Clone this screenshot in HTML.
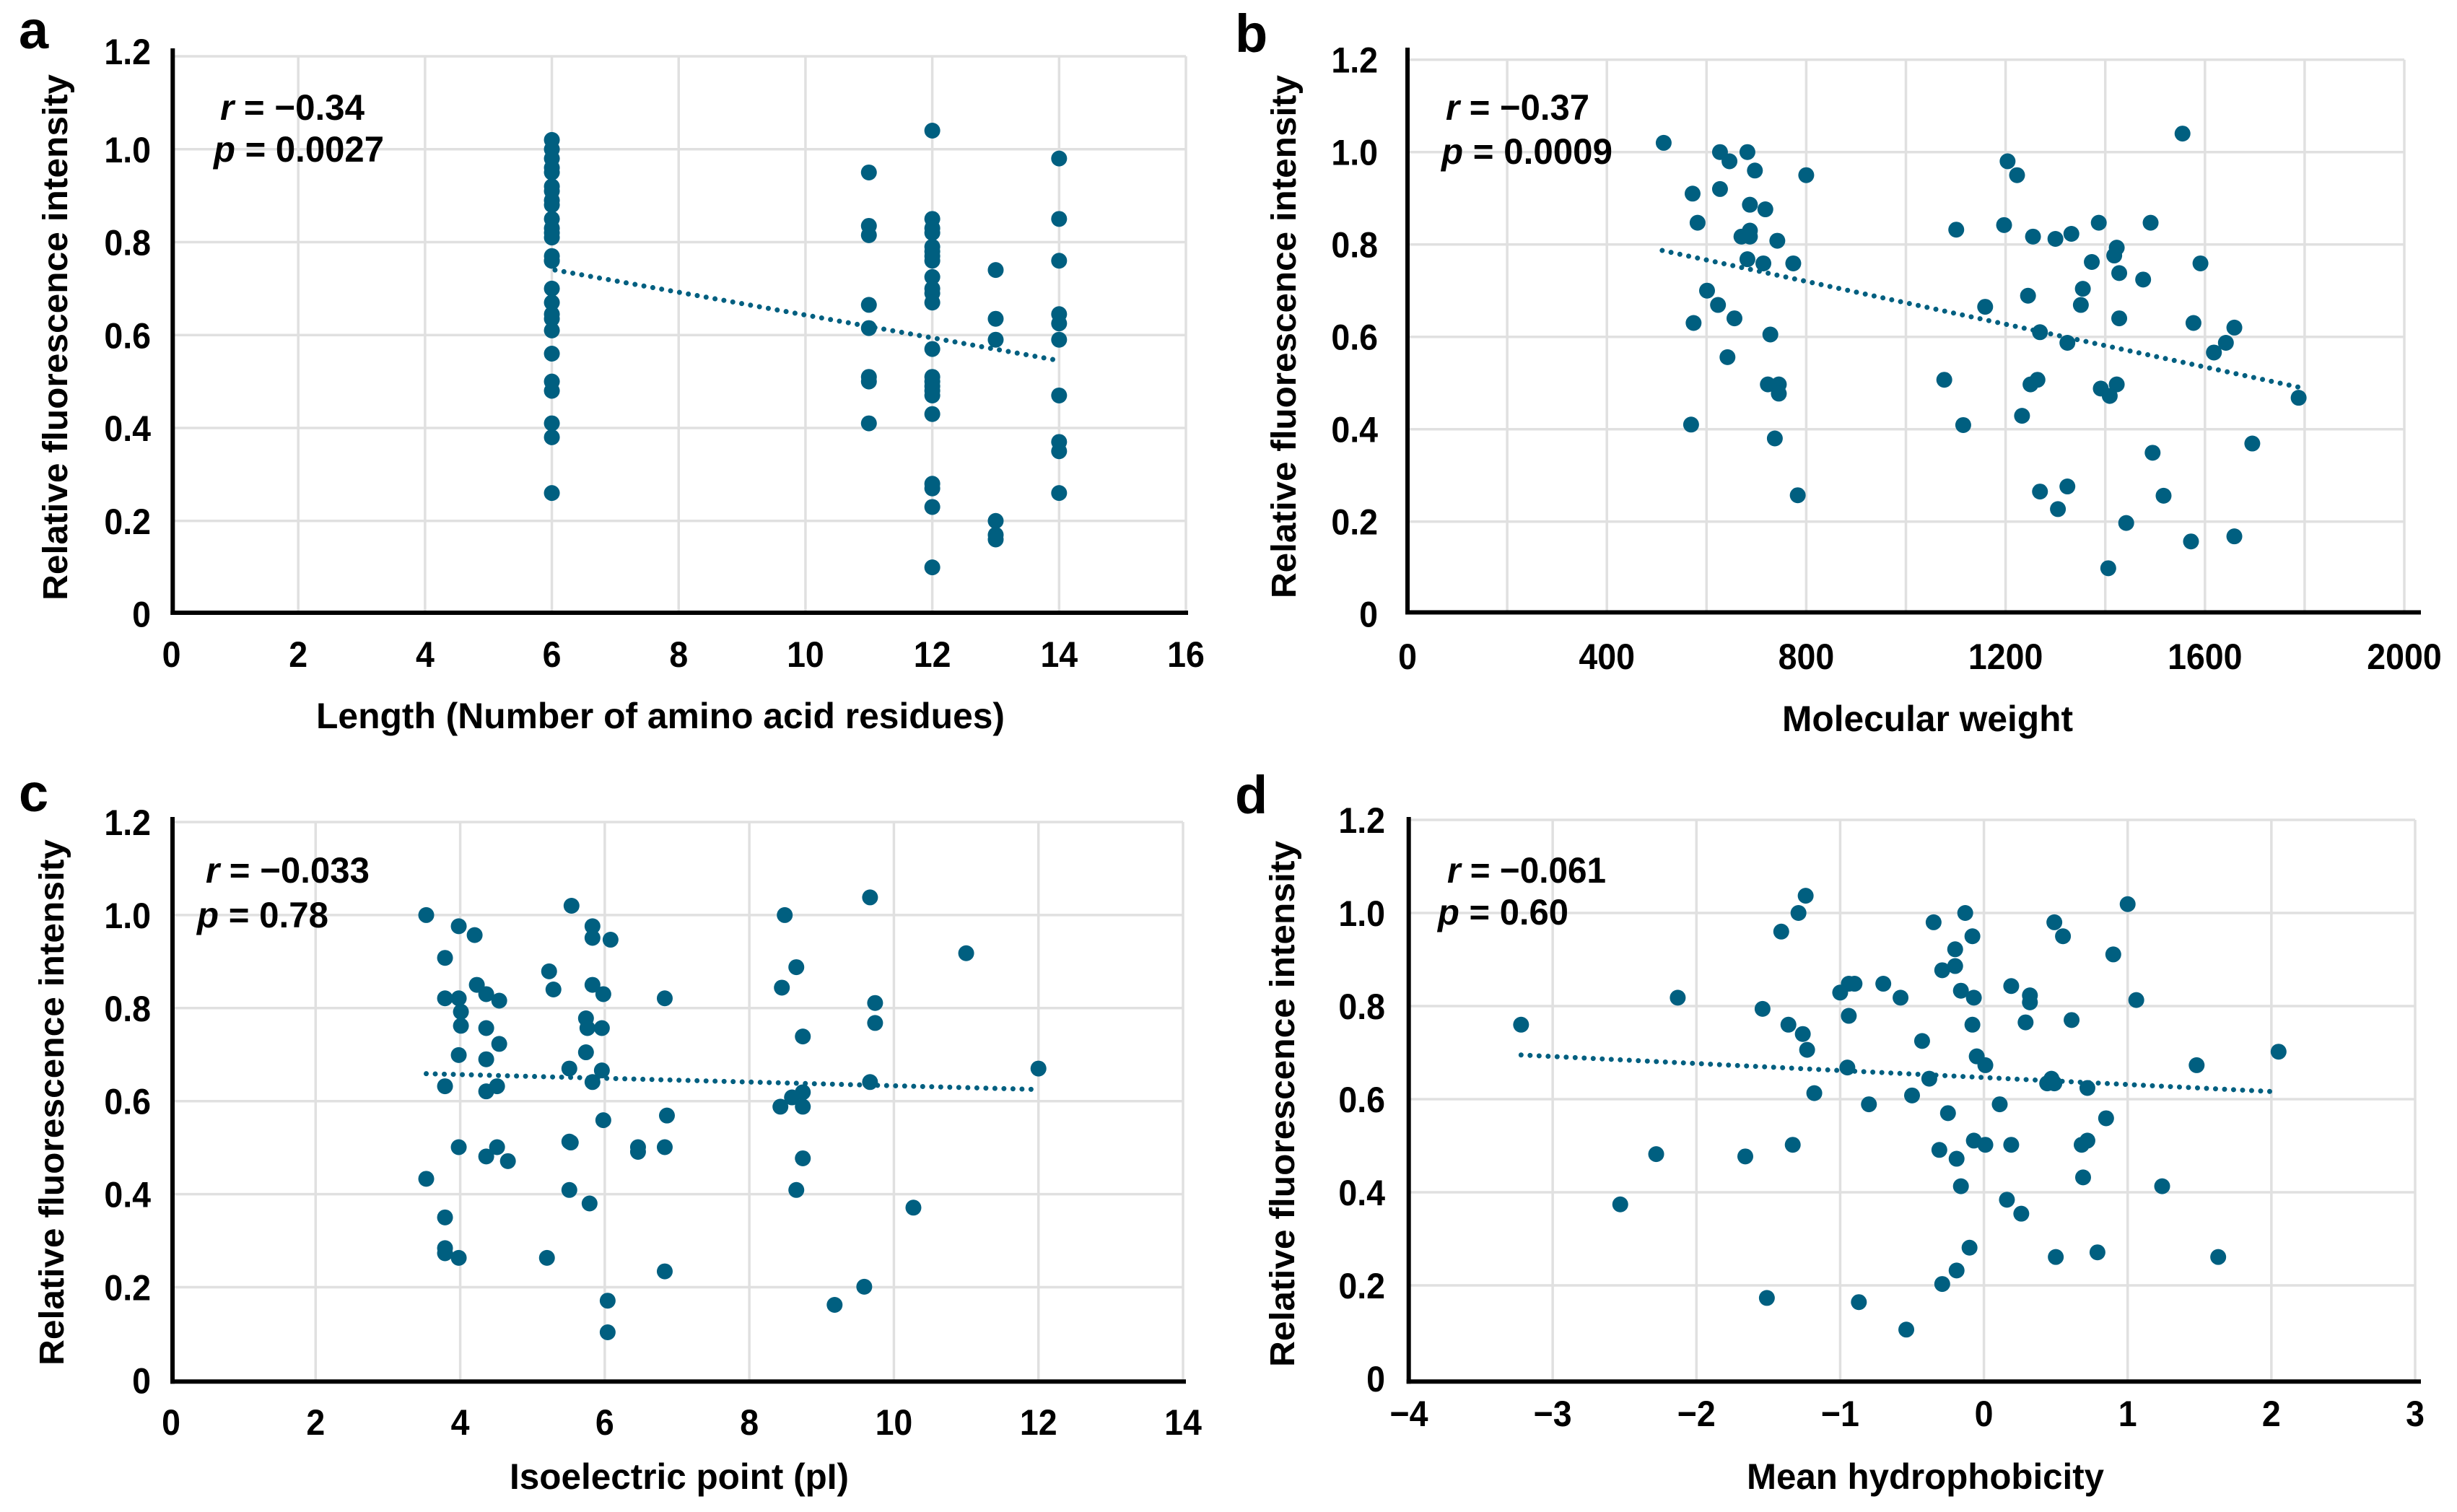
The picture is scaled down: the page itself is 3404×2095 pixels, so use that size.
<!DOCTYPE html>
<html lang="en">
<head>
<meta charset="utf-8">
<title>Relative fluorescence intensity correlations</title>
<style>
html,body{margin:0;padding:0;background:#fff;}
svg{display:block;}
text{font-family:"Liberation Sans",Arial,sans-serif;font-weight:bold;fill:#000;}
</style>
</head>
<body>
<svg id="chart" xmlns="http://www.w3.org/2000/svg" width="3404" height="2095" viewBox="0 0 3404 2095">
<rect x="0" y="0" width="3404" height="2095" fill="#ffffff"/>
<g id="panel-a"></g>
<g id="panel-b"></g>
<g id="panel-c"></g>
<g id="panel-d"></g>

<text x="26" y="67" font-size="74">a</text>
<text x="1711" y="72" font-size="74">b</text>
<text x="26" y="1124" font-size="74">c</text>
<text x="1711" y="1127" font-size="74">d</text>

<text transform="translate(93,832) rotate(-90)" font-size="48" textLength="729" lengthAdjust="spacingAndGlyphs">Relative fluorescence intensity</text>
<text transform="translate(1795,829) rotate(-90)" font-size="48" textLength="725" lengthAdjust="spacingAndGlyphs">Relative fluorescence intensity</text>
<text transform="translate(88,1892) rotate(-90)" font-size="48" textLength="729" lengthAdjust="spacingAndGlyphs">Relative fluorescence intensity</text>
<text transform="translate(1793,1894) rotate(-90)" font-size="48" textLength="729" lengthAdjust="spacingAndGlyphs">Relative fluorescence intensity</text>

<text x="438" y="1009" font-size="50" textLength="954" lengthAdjust="spacingAndGlyphs">Length (Number of amino acid residues)</text>
<text x="2469" y="1013" font-size="50" textLength="403" lengthAdjust="spacingAndGlyphs">Molecular weight</text>
<text x="706" y="2063" font-size="50" textLength="470" lengthAdjust="spacingAndGlyphs">Isoelectric point (pI)</text>
<text x="2420" y="2063" font-size="50" textLength="495" lengthAdjust="spacingAndGlyphs">Mean hydrophobicity</text>

<text x="305" y="166" font-size="50" textLength="200" lengthAdjust="spacingAndGlyphs"><tspan font-style="italic">r</tspan> = −0.34</text>
<text x="296" y="224" font-size="50" textLength="236" lengthAdjust="spacingAndGlyphs"><tspan font-style="italic">p</tspan> = 0.0027</text>
<text x="2003" y="166" font-size="50" textLength="199" lengthAdjust="spacingAndGlyphs"><tspan font-style="italic">r</tspan> = −0.37</text>
<text x="1997" y="227" font-size="50" textLength="237" lengthAdjust="spacingAndGlyphs"><tspan font-style="italic">p</tspan> = 0.0009</text>
<text x="285" y="1223" font-size="50" textLength="227" lengthAdjust="spacingAndGlyphs"><tspan font-style="italic">r</tspan> = −0.033</text>
<text x="273" y="1285" font-size="50" textLength="182" lengthAdjust="spacingAndGlyphs"><tspan font-style="italic">p</tspan> = 0.78</text>
<text x="2005" y="1223" font-size="50" textLength="220" lengthAdjust="spacingAndGlyphs"><tspan font-style="italic">r</tspan> = −0.061</text>
<text x="1992" y="1281" font-size="50" textLength="181" lengthAdjust="spacingAndGlyphs"><tspan font-style="italic">p</tspan> = 0.60</text>
</svg>
<script>
const yTickValues = [0, 0.2, 0.4, 0.6, 0.8, 1.0, 1.2];
const yTickLabels = ["0", "0.2", "0.4", "0.6", "0.8", "1.0", "1.2"];

const aXGrid = [2, 4, 6, 8, 10, 12, 14, 16];
const aXTicks = [0, 2, 4, 6, 8, 10, 12, 14, 16];
const aXTickLabels = ["0", "2", "4", "6", "8", "10", "12", "14", "16"];
const aLength = [6,6,6,6,6,6,6,6,6,6,6,6,6,6,6,6,6,6,6,6,6,6,6,6,6,6,6,
  11,11,11,11,11,11,11,11,
  12,12,12,12,12,12,12,12,12,12,12,12,12,12,12,12,12,12,12,12,12,12,12,
  13,13,13,13,13,13,
  14,14,14,14,14,14,14,14,14,14];
const aIntensity = [1.02,1.0,0.98,0.96,0.95,0.92,0.91,0.89,0.88,0.85,0.83,0.82,0.81,0.77,0.76,0.76,0.70,0.67,0.645,0.635,0.61,0.56,0.50,0.48,0.41,0.38,0.26,
  0.95,0.835,0.815,0.665,0.615,0.51,0.50,0.41,
  1.04,0.85,0.83,0.82,0.79,0.78,0.77,0.76,0.725,0.70,0.69,0.67,0.57,0.51,0.50,0.49,0.48,0.47,0.43,0.28,0.27,0.23,0.10,
  0.74,0.635,0.59,0.20,0.17,0.16,
  0.98,0.85,0.76,0.645,0.625,0.59,0.47,0.37,0.35,0.26];
const aTrendX = [6.05, 14];
const aTrendY = [0.74, 0.545];

const bXGrid = [200, 400, 600, 800, 1000, 1200, 1400, 1600, 1800, 2000];
const bXTicks = [0, 400, 800, 1200, 1600, 2000];
const bXTickLabels = ["0", "400", "800", "1200", "1600", "2000"];
const bWeight = [514,572,582,627,646,682,697,627,800,687,718,670,687,687,742,682,714,774,601,623,656,574,728,642,723,745,745,569,737,783,
  1204,1223,1555,1101,1197,1255,1300,1332,1387,1491,1423,1418,1373,1428,1476,1591,1245,1355,1351,1159,1428,1577,1659,1269,1324,1642,1618,1077,1250,1264,1391,1423,1409,1788,1233,1115,1695,1495,1269,1324,1517,1305,1442,1659,1572,1406];
const bIntensity = [1.02,0.91,0.847,1.0,0.98,1.0,0.96,0.92,0.95,0.886,0.876,0.817,0.83,0.817,0.808,0.768,0.759,0.759,0.70,0.669,0.64,0.63,0.605,0.556,0.497,0.497,0.477,0.41,0.38,0.257,
  0.98,0.95,1.04,0.832,0.842,0.817,0.812,0.823,0.847,0.847,0.793,0.776,0.762,0.738,0.724,0.759,0.689,0.704,0.669,0.665,0.64,0.63,0.62,0.61,0.587,0.587,0.566,0.507,0.497,0.507,0.488,0.497,0.472,0.468,0.429,0.409,0.369,0.349,0.265,0.276,0.256,0.227,0.197,0.168,0.157,0.099];
const bTrendX = [511, 1788];
const bTrendY = [0.787, 0.491];

const cXGrid = [2, 4, 6, 8, 10, 12, 14];
const cXTicks = [0, 2, 4, 6, 8, 10, 12, 14];
const cXTickLabels = ["0", "2", "4", "6", "8", "10", "12", "14"];
const cIsoelectric = [3.53,3.98,4.2,3.79,4.23,4.36,3.79,3.98,4.54,4.01,4.01,4.36,4.54,3.98,4.36,3.79,4.36,4.51,3.98,4.51,4.36,4.66,3.53,3.79,3.79,3.79,3.98,
  5.54,5.83,5.83,6.08,5.23,5.29,5.83,5.98,6.83,5.74,5.76,5.96,5.74,5.51,5.96,5.83,5.98,6.86,5.53,5.51,6.46,6.46,6.83,5.51,5.79,5.2,6.83,6.04,6.04,
  8.49,8.65,8.45,8.74,8.74,8.59,8.43,8.74,8.74,8.65,9.67,9.74,9.74,9.67,11.0,12,10.27,9.59,9.18];
const cIntensity = [1.0,0.976,0.957,0.908,0.85,0.83,0.821,0.821,0.816,0.792,0.762,0.757,0.723,0.699,0.69,0.632,0.621,0.632,0.501,0.501,0.481,0.471,0.433,0.35,0.284,0.273,0.263,
  1.02,0.976,0.951,0.947,0.879,0.84,0.85,0.83,0.821,0.778,0.757,0.757,0.705,0.67,0.666,0.641,0.559,0.569,0.511,0.513,0.501,0.491,0.501,0.409,0.38,0.263,0.234,0.171,0.103,
  1.0,0.888,0.844,0.739,0.619,0.608,0.588,0.588,0.477,0.409,1.038,0.811,0.768,0.641,0.918,0.67,0.371,0.201,0.162];
const cTrendX = [3.53, 12];
const cTrendY = [0.659, 0.625];

const dXGrid = [-3, -2, -1, 0, 1, 2, 3];
const dXTicks = [-4, -3, -2, -1, 0, 1, 2, 3];
const dXTickLabels = ["−4", "−3", "−2", "−1", "0", "1", "2", "3"];
const dHydrophobicity = [-3.22,-2.13,-2.28,-2.53,-1.66,-1.54,-1.36,-1.33,-1.26,-1.23,-1.18,-1.41,-1.29,-1.24,-1.51,-0.87,-0.54,-0.94,-0.9,-1.0,-0.7,-0.58,-0.94,-0.95,-0.8,-0.5,-0.43,-0.38,-0.25,-0.31,-0.19,-0.16,-0.07,0.01,0.19,-0.29,-0.19,-0.1,-0.35,-0.13,-0.08,-0.2,-0.2,-0.29,-0.16,-0.07,-0.08,-0.05,0.01,0.11,0.16,0.26,0.19,0.32,0.32,0.29,0.61,0.49,0.55,0.9,1.0,1.06,0.47,0.44,0.49,0.72,0.85,0.68,0.72,0.69,1.24,0.5,0.79,1.63,1.48,2.05];
const dIntensity = [0.76,0.818,0.482,0.374,0.477,0.794,0.76,0.502,0.74,0.706,0.613,0.96,1.0,1.037,0.173,0.164,0.105,0.848,0.848,0.829,0.848,0.818,0.779,0.668,0.589,0.608,0.725,0.644,0.57,0.491,0.472,0.413,0.511,0.502,0.502,0.203,0.232,0.281,0.98,1.0,0.95,0.922,0.886,0.877,0.833,0.818,0.76,0.692,0.673,0.589,0.384,0.354,0.843,0.823,0.808,0.765,0.77,0.98,0.95,0.911,1.019,0.813,0.644,0.634,0.634,0.624,0.559,0.502,0.511,0.432,0.413,0.261,0.271,0.261,0.673,0.702];
const dTrendX = [-3.22, 2.03];
const dTrendY = [0.695, 0.616];

const SVG_NS = "http://www.w3.org/2000/svg";
const DOT_COLOR = "#005f80";
const GRID_COLOR = "#e0e0e0";

function makeEl(tag, attrs) {
  const el = document.createElementNS(SVG_NS, tag);
  for (const key in attrs) { el.setAttribute(key, attrs[key]); }
  return el;
}

function condense(label) {
  const natural = label.getComputedTextLength();
  label.setAttribute("textLength", natural * 0.93);
  label.setAttribute("lengthAdjust", "spacingAndGlyphs");
}

function drawPanel(p) {
  const root = document.getElementById(p.id);
  const sx = function (v) { return p.left + (v - p.xMin) / (p.xMax - p.xMin) * (p.right - p.left); };
  const sy = function (v) { return p.bottom - v / 1.2 * (p.bottom - p.top); };

  p.yTicks.forEach(function (v, i) {
    if (v !== 0) {
      const line = makeEl("line", { x1: p.axisX, x2: p.right, y1: sy(v), y2: sy(v), stroke: GRID_COLOR, "stroke-width": 3.5 });
      
      
      root.appendChild(line);
    }
    const nudge = v === 1.2 ? p.topLabelNudge : 0;
    const label = makeEl("text", { x: p.yLabelRight, y: sy(v) + 18 + nudge, "font-size": 50, "text-anchor": "end" });
    label.textContent = p.yLabels[i];
    
    
    root.appendChild(label);
    condense(label);
  });

  p.xGrid.forEach(function (v) {
    const line = makeEl("line", { x1: sx(v), x2: sx(v), y1: p.top, y2: p.axisY, stroke: GRID_COLOR, "stroke-width": 3.5 });
    
    
    root.appendChild(line);
  });

  p.xTicks.forEach(function (v, i) {
    const label = makeEl("text", { x: sx(v), y: p.xLabelBaseline, "font-size": 50, "text-anchor": "middle" });
    label.textContent = p.xLabels[i];
    
    
    root.appendChild(label);
    condense(label);
  });

  const trend = makeEl("line", {
    x1: sx(p.trendX[0]), y1: sy(p.trendY[0]), x2: sx(p.trendX[1]), y2: sy(p.trendY[1]),
    stroke: DOT_COLOR, "stroke-width": 7, "stroke-linecap": "round", "stroke-dasharray": "0.01 12.5"
  });
  
  
  root.appendChild(trend);

  p.xs.forEach(function (x, i) {
    const dot = makeEl("circle", { cx: sx(x), cy: sy(p.ys[i]), r: 11, fill: DOT_COLOR });
    
    
    root.appendChild(dot);
  });

  const yAxis = makeEl("line", { x1: p.axisX, x2: p.axisX, y1: p.axisTop, y2: p.axisY + 3, stroke: "#000", "stroke-width": 6 });
  
  
  root.appendChild(yAxis);

  const xAxis = makeEl("line", { x1: p.axisX - 3, x2: p.axisRight, y1: p.axisY, y2: p.axisY, stroke: "#000", "stroke-width": 6 });
  
  
  root.appendChild(xAxis);
}

drawPanel({ id: "panel-a", left: 237.5, right: 1643, axisX: 239.3, axisRight: 1646, top: 78, bottom: 850.5, axisY: 849, axisTop: 67, xMin: 0, xMax: 16,
  xs: aLength, ys: aIntensity, trendX: aTrendX, trendY: aTrendY, xGrid: aXGrid, xTicks: aXTicks, xLabels: aXTickLabels,
  yTicks: yTickValues, yLabels: yTickLabels, yLabelRight: 209, xLabelBaseline: 924, topLabelNudge: -7 });
drawPanel({ id: "panel-b", left: 1950, right: 3331, axisX: 1950, axisRight: 3354, top: 82.7, bottom: 850.7, axisY: 848.5, axisTop: 66, xMin: 0, xMax: 2000,
  xs: bWeight, ys: bIntensity, trendX: bTrendX, trendY: bTrendY, xGrid: bXGrid, xTicks: bXTicks, xLabels: bXTickLabels,
  yTicks: yTickValues, yLabels: yTickLabels, yLabelRight: 1909, xLabelBaseline: 927, topLabelNudge: 0 });
drawPanel({ id: "panel-c", left: 237, right: 1639, axisX: 239, axisRight: 1643, top: 1139, bottom: 1912.4, axisY: 1914.3, axisTop: 1132, xMin: 0, xMax: 14,
  xs: cIsoelectric, ys: cIntensity, trendX: cTrendX, trendY: cTrendY, xGrid: cXGrid, xTicks: cXTicks, xLabels: cXTickLabels,
  yTicks: yTickValues, yLabels: yTickLabels, yLabelRight: 209, xLabelBaseline: 1988, topLabelNudge: 0 });
drawPanel({ id: "panel-d", left: 1952, right: 3346, axisX: 1951.7, axisRight: 3354, top: 1136, bottom: 1910, axisY: 1914.3, axisTop: 1132, xMin: -4, xMax: 3,
  xs: dHydrophobicity, ys: dIntensity, trendX: dTrendX, trendY: dTrendY, xGrid: dXGrid, xTicks: dXTicks, xLabels: dXTickLabels,
  yTicks: yTickValues, yLabels: yTickLabels, yLabelRight: 1919, xLabelBaseline: 1976, topLabelNudge: 0 });
</script>
</body>
</html>
